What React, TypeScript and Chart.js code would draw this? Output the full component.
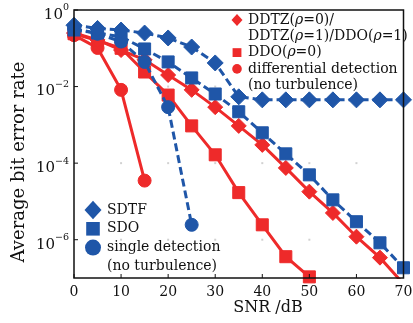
import React, { useEffect, useRef } from 'react';
import { Chart, registerables } from 'chart.js';

Chart.register(...registerables);

// ---- data ----
const snr = [0, 5, 10, 15, 20, 25, 30, 35, 40, 45, 50, 55, 60, 65, 70];
const sdtf = [0.4, 0.33, 0.3, 0.25, 0.186, 0.108, 0.0414, 0.0054, 0.0045, 0.0045, 0.0045, 0.0045, 0.0045, 0.0045, 0.0045];
const sdo = [0.3, 0.25, 0.2, 0.096, 0.044, 0.0168, 0.0064, 0.0022, 6.2e-4, 1.75e-4, 4.95e-5, 1.1e-5, 2.95e-6, 8.3e-7, 1.85e-7];
const singleDet = [0.33, 0.24, 0.15, 0.044, 0.0029, 2.45e-6];
const ddtz = [0.25, 0.165, 0.09, 0.05, 0.02, 0.0082, 0.0029, 9.4e-4, 3.0e-4, 7.5e-5, 1.8e-5, 5.0e-6, 1.2e-6, 3.4e-7, 7e-8];
const ddo = [0.24, 0.16, 0.1, 0.024, 0.006, 9.4e-4, 1.65e-4, 1.7e-5, 2.45e-6, 3.6e-7, 1.07e-7];
const diffDet = [0.22, 0.102, 0.0082, 3.5e-5];

const xTicks = [0, 10, 20, 30, 40, 50, 60, 70];
const yTickExps = [0, -2, -4, -6];

const BLUE = '#1f56a8';
const RED = '#ee2a2a';
const SERIF = '"DejaVu Serif", serif';

type Seg = { t: string; i?: boolean };

const legendTop: { shape: string; lines: Seg[][] }[] = [
  { shape: 'diamond', lines: [[{ t: 'DDTZ(' }, { t: 'ρ', i: true }, { t: '=0)/' }], [{ t: 'DDTZ(' }, { t: 'ρ', i: true }, { t: '=1)/DDO(' }, { t: 'ρ', i: true }, { t: '=1)' }]] },
  { shape: 'square', lines: [[{ t: 'DDO(' }, { t: 'ρ', i: true }, { t: '=0)' }]] },
  { shape: 'circle', lines: [[{ t: 'differential detection' }], [{ t: '(no turbulence)' }]] },
];
const legendBottom: { shape: string; lines: Seg[][] }[] = [
  { shape: 'diamond', lines: [[{ t: 'SDTF' }]] },
  { shape: 'square', lines: [[{ t: 'SDO' }]] },
  { shape: 'circle', lines: [[{ t: 'single detection' }], [{ t: '(no turbulence)' }]] },
];

const pts = (vals: number[]) => vals.map((v, i) => ({ x: snr[i], y: v }));

function drawRich(ctx: CanvasRenderingContext2D, segs: Seg[], x: number, y: number, size: number) {
  let cx = x;
  for (const s of segs) {
    ctx.font = `${s.i ? 'italic ' : ''}${size}px ${SERIF}`;
    ctx.fillText(s.t, cx, y);
    cx += ctx.measureText(s.t).width;
  }
}

function drawMarker(ctx: CanvasRenderingContext2D, shape: string, x: number, y: number, r: number, color: string) {
  ctx.fillStyle = color;
  ctx.beginPath();
  if (shape === 'diamond') {
    ctx.moveTo(x, y - r * 1.08);
    ctx.lineTo(x + r, y);
    ctx.lineTo(x, y + r * 1.08);
    ctx.lineTo(x - r, y);
    ctx.closePath();
  } else if (shape === 'square') {
    ctx.rect(x - r * 0.85, y - r * 0.85, r * 1.7, r * 1.7);
  } else {
    ctx.arc(x, y, r, 0, Math.PI * 2);
  }
  ctx.fill();
}

const decorPlugin = {
  id: 'decor',
  beforeDatasetsDraw(chart: any) {
    const ctx: CanvasRenderingContext2D = chart.ctx;
    const xs = chart.scales.x;
    const ys = chart.scales.y;
    ctx.save();
    ctx.fillStyle = 'rgba(0,0,0,0.18)';
    for (const xt of xTicks.slice(1, -1)) {
      for (const e of yTickExps.slice(1)) {
        ctx.fillRect(xs.getPixelForValue(xt) - 1, ys.getPixelForValue(Math.pow(10, e)) - 1, 2, 2);
      }
    }
    ctx.restore();
  },
  afterDatasetsDraw(chart: any) {
    const ctx: CanvasRenderingContext2D = chart.ctx;
    const a = chart.chartArea;
    const xs = chart.scales.x;
    const ys = chart.scales.y;
    ctx.save();
    // frame
    ctx.strokeStyle = '#111';
    ctx.lineWidth = 1.5;
    ctx.strokeRect(a.left, a.top, a.right - a.left, a.bottom - a.top);
    // inward ticks
    ctx.lineWidth = 1;
    ctx.beginPath();
    for (const xt of xTicks) {
      const px = xs.getPixelForValue(xt);
      ctx.moveTo(px, a.bottom);
      ctx.lineTo(px, a.bottom - 4);
    }
    for (const e of yTickExps) {
      const py = ys.getPixelForValue(Math.pow(10, e));
      ctx.moveTo(a.left, py);
      ctx.lineTo(a.left + 4, py);
    }
    ctx.stroke();
    ctx.fillStyle = '#111';
    // x tick labels
    ctx.font = `14px ${SERIF}`;
    ctx.textAlign = 'center';
    ctx.textBaseline = 'middle';
    for (const xt of xTicks) {
      ctx.fillText(String(xt), xs.getPixelForValue(xt), a.bottom + 14);
    }
    // y tick labels 10^e
    ctx.textAlign = 'left';
    for (const e of yTickExps) {
      const py = ys.getPixelForValue(Math.pow(10, e));
      const expTxt = e === 0 ? '0' : '\u2212' + String(-e);
      ctx.font = `9.5px ${SERIF}`;
      const w2 = ctx.measureText(expTxt).width;
      ctx.font = `15px ${SERIF}`;
      const w1 = ctx.measureText('10').width;
      const right = a.left - 5;
      ctx.fillText('10', right - w2 - w1, py + 5);
      ctx.font = `9.5px ${SERIF}`;
      ctx.fillText(expTxt, right - w2, py - 2);
    }
    // axis titles
    ctx.font = `16px ${SERIF}`;
    ctx.textAlign = 'center';
    ctx.textBaseline = 'alphabetic';
    ctx.fillText('SNR /dB', a.left + 194, a.bottom + 34);
    ctx.save();
    ctx.translate(24, a.top + 152);
    ctx.rotate(-Math.PI / 2);
    ctx.font = `18px ${SERIF}`;
    ctx.fillText('Average bit error rate', 0, 0);
    ctx.restore();
    // legends
    ctx.textAlign = 'left';
    ctx.textBaseline = 'middle';
    ctx.fillStyle = '#111';
    // top-right legend (red)
    const topSizes = [5.5, 5.2, 4.8];
    let ly = a.top + 10;
    legendTop.forEach((item, k) => {
      drawMarker(ctx, item.shape, a.left + 163, ly, topSizes[k], RED);
      ctx.fillStyle = '#111';
      item.lines.forEach((ln) => {
        drawRich(ctx, ln, a.left + 174, ly, 14);
        ly += 16.3;
      });
    });
    // bottom-left legend (blue)
    const botSizes = [8.5, 8, 8];
    ly = a.top + 200;
    legendBottom.forEach((item, k) => {
      drawMarker(ctx, item.shape, a.left + 19, ly, botSizes[k], BLUE);
      ctx.fillStyle = '#111';
      item.lines.forEach((ln) => {
        drawRich(ctx, ln, a.left + 33, ly, 14);
        ly += 18.8;
      });
    });
    ctx.restore();
  },
};

export default function App() {
  const ref = useRef<HTMLCanvasElement | null>(null);
  useEffect(() => {
    document.body.style.margin = '0';
    if (!ref.current) return;
    const noClip = { left: 20, top: 20, right: 20, bottom: 20 };
    const chart = new Chart(ref.current, {
      type: 'line',
      data: {
        datasets: [
          {
            label: 'SDTF', data: pts(sdtf), borderColor: BLUE, backgroundColor: BLUE, borderWidth: 3,
            borderDash: [8, 4], pointStyle: 'rectRot', pointRadius: 8, pointBorderWidth: 1,
            pointBorderColor: BLUE, pointBackgroundColor: BLUE, clip: noClip as any,
          },
          {
            label: 'SDO', data: pts(sdo), borderColor: BLUE, backgroundColor: BLUE, borderWidth: 3,
            borderDash: [8, 4], pointStyle: 'rect', pointRadius: 8.5, pointBorderWidth: 1,
            pointBorderColor: BLUE, pointBackgroundColor: BLUE, clip: noClip as any,
          },
          {
            label: 'single detection', data: pts(singleDet), borderColor: BLUE, backgroundColor: BLUE, borderWidth: 3,
            borderDash: [8, 4], pointStyle: 'circle', pointRadius: 6.5, pointBorderWidth: 1,
            pointBorderColor: BLUE, pointBackgroundColor: BLUE, clip: noClip as any,
          },
          {
            label: 'DDTZ', data: pts(ddtz), borderColor: RED, backgroundColor: RED, borderWidth: 3,
            pointStyle: 'rectRot', pointRadius: ddtz.map((_, i) => (i === ddtz.length - 1 ? 0 : 7.5)),
            pointBorderWidth: 1, pointBorderColor: RED, pointBackgroundColor: RED,
            clip: { left: 20, top: 20, right: 20, bottom: 1 } as any,
          },
          {
            label: 'DDO', data: pts(ddo), borderColor: RED, backgroundColor: RED, borderWidth: 3,
            pointStyle: 'rect', pointRadius: 8.5, pointBorderWidth: 1,
            pointBorderColor: RED, pointBackgroundColor: RED, clip: noClip as any,
          },
          {
            label: 'differential detection', data: pts(diffDet), borderColor: RED, backgroundColor: RED, borderWidth: 3,
            pointStyle: 'circle', pointRadius: 6.5, pointBorderWidth: 1,
            pointBorderColor: RED, pointBackgroundColor: RED, clip: noClip as any,
          },
        ],
      },
      options: {
        responsive: false,
        animation: false,
        devicePixelRatio: 1,
        layout: { padding: { top: 10, right: 5, left: 0, bottom: 0 } },
        plugins: { legend: { display: false }, tooltip: { enabled: false }, title: { display: false } },
        scales: {
          x: {
            type: 'linear', min: 0, max: 70,
            grid: { display: false }, border: { display: false },
            ticks: { display: false, stepSize: 10 },
            afterFit: (s: any) => { s.height = 45; },
          },
          y: {
            type: 'logarithmic', min: 1e-7, max: 1,
            grid: { display: false }, border: { display: false },
            ticks: { display: false },
            afterFit: (s: any) => { s.width = 74; },
          },
        },
      },
      plugins: [decorPlugin],
    } as any);
    return () => chart.destroy();
  }, []);
  return (
    <div style={{ width: 413, height: 323, background: '#fff' }}>
      <canvas ref={ref} width={413} height={323} style={{ display: 'block', width: 413, height: 323 }} />
    </div>
  );
}
